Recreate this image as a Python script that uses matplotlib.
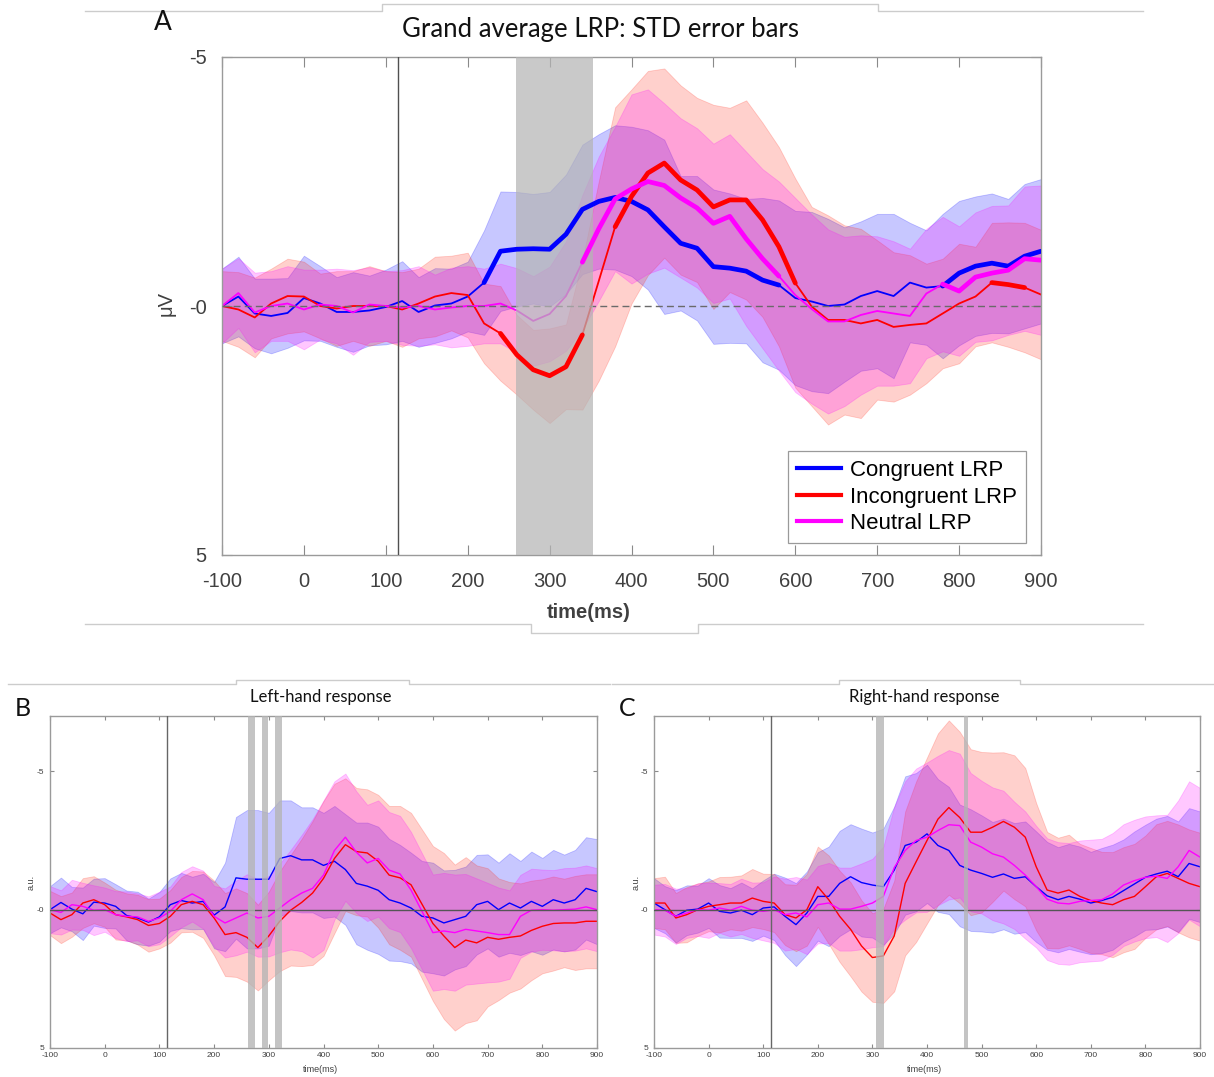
import numpy as np
import matplotlib
matplotlib.use('Agg')
import matplotlib.pyplot as plt
from matplotlib.lines import Line2D

plt.rcParams['font.family'] = ['Liberation Sans', 'DejaVu Sans']
plt.rcParams['axes.unicode_minus'] = False

W, H = 1214, 1077

times = list(range(-100, 901, 20))

# ---- A: grand average LRP (mean, std) ----
a_cong = [0.0, -0.19, 0.15, 0.2, 0.14, -0.16, -0.05, 0.12, 0.12, 0.09,
          0.02, -0.1, 0.12, -0.01, -0.05, -0.19, -0.47, -1.1, -1.14, -1.15,
          -1.14, -1.44, -1.94, -2.1, -2.18, -2.1, -1.93, -1.59, -1.26, -1.16,
          -0.79, -0.76, -0.7, -0.52, -0.42, -0.16, -0.09, 0.0, -0.03, -0.2,
          -0.3, -0.2, -0.47, -0.37, -0.4, -0.66, -0.8, -0.86, -0.8, -1.0, -1.1]
a_incong = [0.0, 0.07, 0.23, -0.05, -0.2, -0.19, 0.0, 0.05, 0.0, 0.0,
            0.0, 0.07, -0.05, -0.19, -0.26, -0.22, 0.35, 0.55, 0.98, 1.28,
            1.4, 1.22, 0.58, -0.5, -1.59, -2.2, -2.67, -2.87, -2.53, -2.33,
            -1.99, -2.13, -2.13, -1.73, -1.19, -0.46, 0.01, 0.28, 0.28, 0.35,
            0.28, 0.42, 0.38, 0.35, 0.15, -0.05, -0.19, -0.47, -0.43, -0.37, -0.23]
a_neut = [0.0, -0.26, 0.13, 0.0, -0.05, 0.07, -0.03, 0.0, 0.13, -0.03,
          0.0, 0.03, 0.0, 0.07, 0.03, 0.0, 0.0, -0.05, 0.09, 0.3,
          0.16, -0.2, -0.88, -1.55, -2.15, -2.35, -2.5, -2.42, -2.17, -1.97,
          -1.66, -1.8, -1.35, -0.95, -0.6, -0.22, 0.06, 0.31, 0.31, 0.18,
          0.1, 0.15, 0.2, -0.25, -0.44, -0.3, -0.58, -0.66, -0.72, -0.95, -0.92]
a_cong_sd = [0.75, 0.8, 0.7, 0.75, 0.7, 0.85, 0.75, 0.7, 0.8, 0.7,
             0.75, 0.8, 0.7, 0.75, 0.7, 0.7, 1.05, 1.2, 1.15, 1.1,
             1.15, 1.2, 1.3, 1.35, 1.45, 1.5, 1.6, 1.75, 1.35, 1.45,
             1.55, 1.5, 1.45, 1.65, 1.7, 1.75, 1.8, 1.75, 1.55, 1.5,
             1.55, 1.65, 1.2, 1.15, 1.45, 1.45, 1.4, 1.4, 1.35, 1.45, 1.45]
a_incong_sd = [0.7, 0.75, 0.8, 0.7, 0.75, 0.7, 0.65, 0.75, 0.7, 0.8,
               0.7, 0.75, 0.7, 0.8, 0.75, 0.85, 0.8, 0.95, 0.8, 0.8,
               0.95, 0.85, 1.5, 2.0, 2.4, 2.15, 2.05, 1.9, 1.9, 1.85,
               2.05, 1.85, 2.0, 1.95, 2.0, 2.1, 2.0, 2.1, 1.9, 1.9,
               1.6, 1.5, 1.4, 1.2, 1.1, 1.2, 1.0, 1.2, 1.25, 1.3, 1.3]
a_neut_sd = [0.75, 0.7, 0.8, 0.7, 0.75, 0.8, 0.7, 0.75, 0.85, 0.75,
             0.7, 0.75, 0.8, 0.7, 0.8, 0.8, 0.75, 0.8, 0.85, 0.9,
             0.95, 1.1, 1.35, 1.45, 1.45, 1.9, 1.85, 1.65, 1.6, 1.6,
             1.6, 1.65, 1.75, 1.8, 1.9, 1.95, 1.9, 1.85, 1.7, 1.6,
             1.5, 1.45, 1.35, 1.3, 1.35, 1.3, 1.3, 1.35, 1.3, 1.45, 1.5]
# significant stretches (ms) drawn bold
a_sig = [[(220, 580), (780, 900)],
         [(240, 340), (380, 600), (840, 880)],
         [(340, 580), (780, 900)]]
a_gray = [(259, 353)]

# ---- B: left-hand response ----
b_cong = [0.0, -0.26, -0.02, 0.15, -0.27, -0.24, -0.12, 0.21, 0.3, 0.45,
          0.26, -0.18, -0.33, -0.24, -0.3, 0.2, -0.1, -1.15, -1.1, -1.1,
          -1.1, -1.85, -1.95, -1.8, -1.8, -1.6, -1.75, -1.45, -0.95, -0.85,
          -0.7, -0.36, -0.24, -0.06, 0.24, 0.3, 0.48, 0.36, 0.24, -0.18,
          -0.3, 0.0, -0.24, -0.06, -0.3, -0.12, -0.36, -0.24, -0.36, -0.77, -0.65]
b_incong = [0.12, 0.36, 0.18, -0.24, -0.36, -0.18, 0.18, 0.26, 0.36, 0.57,
            0.5, 0.24, -0.18, -0.3, -0.18, 0.3, 0.9, 0.83, 1.0, 1.37,
            0.95, 0.42, 0.02, -0.26, -0.6, -1.13, -1.85, -2.35, -2.1, -2.05,
            -1.75, -1.25, -1.15, -0.9, -0.2, 0.5, 0.95, 1.37, 1.1, 1.2,
            1.0, 1.07, 1.0, 0.95, 0.75, 0.6, 0.5, 0.48, 0.48, 0.42, 0.42]
b_neut = [0.0, 0.1, -0.18, -0.12, 0.02, 0.0, 0.18, 0.24, 0.26, 0.42,
          0.3, 0.06, -0.36, -0.57, -0.36, 0.24, 0.48, 0.3, 0.12, 0.3,
          0.24, -0.06, -0.36, -0.6, -0.77, -1.25, -2.14, -2.62, -2.08, -1.69,
          -1.85, -1.43, -1.29, -0.71, 0.06, 0.83, 0.77, 0.83, 0.71, 0.77,
          0.83, 0.9, 0.9, 0.24, 0.02, 0.0, 0.02, 0.0, -0.02, -0.1, 0.0]
b_cong_sd = [0.85, 0.9, 0.8, 0.95, 0.85, 0.9, 0.8, 0.9, 0.95, 0.85,
             0.9, 0.95, 1.0, 0.95, 1.0, 1.2, 1.6, 2.2, 2.5, 2.5,
             2.4, 2.1, 2.0, 1.9, 1.9, 1.9, 2.0, 2.0, 2.2, 2.3,
             2.3, 2.2, 2.1, 2.0, 2.0, 2.0, 1.9, 1.8, 1.8, 1.8,
             1.7, 1.7, 1.8, 1.7, 1.8, 1.75, 1.8, 1.75, 1.8, 1.85, 1.9]
b_incong_sd = [0.8, 0.85, 0.8, 0.9, 0.85, 0.8, 0.9, 0.85, 0.9, 0.95,
               0.9, 0.95, 1.0, 1.1, 1.2, 1.35, 1.5, 1.6, 1.6, 1.55,
               1.6, 1.8, 2.0, 2.3, 2.6, 2.8, 2.7, 2.4, 2.3, 2.3,
               2.4, 2.5, 2.6, 2.6, 2.7, 2.8, 3.0, 3.0, 3.0, 2.8,
               2.5, 2.2, 2.0, 1.9, 1.8, 1.7, 1.7, 1.6, 1.7, 1.7, 1.7]
b_neut_sd = [0.85, 0.8, 0.9, 0.85, 0.9, 0.8, 0.85, 0.9, 0.85, 0.9,
             0.95, 0.9, 1.0, 1.0, 1.05, 1.1, 1.25, 1.35, 1.4, 1.4,
             1.45, 1.6, 1.8, 2.1, 2.5, 2.7, 2.5, 2.3, 2.2, 2.1,
             2.1, 2.1, 2.1, 2.1, 2.1, 2.1, 2.1, 2.1, 2.0, 1.9,
             1.8, 1.7, 1.6, 1.5, 1.5, 1.45, 1.45, 1.5, 1.5, 1.5, 1.5]
b_gray = [(262, 275), (287, 299), (312, 325)]

# ---- C: right-hand response ----
c_cong = [-0.24, 0.0, 0.24, 0.02, -0.02, -0.24, 0.06, 0.12, 0.02, 0.18,
          -0.06, -0.1, 0.24, 0.54, 0.12, -0.48, -0.48, -0.95, -1.19, -0.98,
          -0.89, -0.83, -1.43, -2.32, -2.44, -2.74, -2.32, -2.14, -1.6, -1.43,
          -1.31, -1.17, -1.29, -1.13, -1.19, -0.83, -0.5, -0.36, -0.48, -0.38,
          -0.24, -0.33, -0.45, -0.69, -0.93, -1.17, -1.29, -1.39, -1.19, -1.67, -1.55]
c_incong = [-0.24, -0.24, 0.3, 0.18, 0.0, -0.12, -0.18, -0.24, -0.24, -0.42,
            -0.3, -0.24, 0.18, 0.3, 0.0, -0.83, -0.36, 0.24, 0.71, 1.31,
            1.73, 1.67, 0.95, -0.95, -1.73, -2.5, -3.27, -3.69, -3.33, -2.8,
            -2.8, -2.98, -3.19, -2.98, -2.62, -1.55, -0.71, -0.6, -0.71, -0.48,
            -0.33, -0.24, -0.18, -0.36, -0.48, -0.83, -1.19, -1.31, -1.13, -0.95, -0.83]
c_neut = [0.0, 0.02, 0.24, 0.12, 0.0, 0.02, -0.06, 0.02, -0.12, 0.02,
          0.06, 0.0, 0.18, 0.12, 0.26, -0.18, -0.24, -0.02, -0.02, -0.12,
          -0.24, -0.48, -1.52, -2.14, -2.5, -2.62, -2.86, -3.07, -3.04, -2.44,
          -2.26, -2.02, -1.9, -1.6, -1.25, -0.83, -0.38, -0.24, -0.21, -0.3,
          -0.33, -0.36, -0.57, -0.89, -1.05, -1.17, -1.21, -1.13, -1.55, -2.14, -1.9]
c_cong_sd = [0.9, 0.85, 0.95, 0.9, 0.85, 0.9, 0.95, 0.9, 1.0, 0.95,
             1.0, 1.2, 1.4, 1.5, 1.5, 1.6, 1.8, 1.9, 1.9, 1.95,
             1.9, 2.1, 2.3, 2.5, 2.5, 2.5, 2.4, 2.3, 2.2, 2.2,
             2.1, 2.0, 2.0, 2.0, 2.0, 2.0, 1.95, 1.9, 1.9, 1.9,
             1.85, 1.9, 1.9, 1.85, 1.9, 1.9, 2.0, 2.0, 2.0, 2.0, 2.0]
c_incong_sd = [0.9, 0.95, 0.9, 1.0, 0.95, 0.9, 1.0, 0.95, 1.0, 1.05,
               1.0, 1.05, 1.1, 1.2, 1.3, 1.45, 1.6, 1.65, 1.7, 1.65,
               1.6, 1.7, 2.0, 2.6, 2.9, 3.0, 3.1, 3.15, 3.1, 3.0,
               2.9, 2.7, 2.5, 2.6, 2.5, 2.3, 2.1, 2.0, 2.0, 1.9,
               1.9, 1.85, 1.9, 1.9, 1.9, 1.85, 1.9, 1.9, 1.95, 1.95, 1.95]
c_neut_sd = [0.9, 0.95, 1.0, 0.9, 0.95, 1.0, 0.9, 0.95, 1.0, 1.0,
             1.05, 1.2, 1.3, 1.3, 1.35, 1.4, 1.45, 1.5, 1.5, 1.55,
             1.6, 1.8, 2.2, 2.5, 2.6, 2.7, 2.7, 2.7, 2.6, 2.5,
             2.4, 2.4, 2.4, 2.3, 2.3, 2.2, 2.2, 2.2, 2.2, 2.2,
             2.2, 2.2, 2.2, 2.2, 2.2, 2.2, 2.2, 2.3, 2.4, 2.5, 2.5]
c_gray = [(306, 322), (468, 476)]

labels = ['Congruent LRP', 'Incongruent LRP', 'Neutral LRP']
line_cols = ['#0000ff', '#ff0000', '#ff00ff']
band_cols = ['#0000ff', '#ff2a18', '#ff00ff']

t = np.array(times)


def fx(x):
    return x / W


def fy(y):
    return 1 - y / H


def shaded(ax, means, sds, lw):
    # each condition: band then mean line, so later bands tint earlier lines
    for m, s, lc, bc in zip(means, sds, line_cols, band_cols):
        m = np.array(m)
        s = np.array(s)
        ax.fill_between(t, m - s, m + s, facecolor=bc, edgecolor=bc,
                        alpha=0.22, lw=0.6, zorder=1)
        ax.plot(t, m, color=lc, lw=lw, zorder=2)


def style(ax, fs, ticklen, xpad, ypad, ylo):
    ax.set_xlim(-100, 900)
    ax.set_ylim(5, ylo)
    ax.set_xticks(range(-100, 901, 100))
    ax.set_yticks([-5, 0, 5])
    ax.set_yticklabels(['-5', '-0', '5'])
    ax.tick_params(direction='in', top=True, right=True, length=ticklen,
                   width=0.8, color='#8a8a8a', labelcolor='#404040',
                   labelsize=fs)
    ax.tick_params(axis='x', pad=xpad)
    ax.tick_params(axis='y', pad=ypad)
    for sp in ax.spines.values():
        sp.set_color('#9a9a9a')
        sp.set_linewidth(1)


fig = plt.figure(figsize=(W / 100, H / 100), dpi=100)

# panel A
axA = fig.add_axes([fx(222), fy(555), fx(1041) - fx(222), fy(57) - fy(555)])
shaded(axA, [a_cong, a_incong, a_neut], [a_cong_sd, a_incong_sd, a_neut_sd], 1.3)
axA.axhline(0, color='#6a6a6a', lw=1, ls=(0, (5, 3)), zorder=3)
axA.axvline(115, color='#505050', lw=1, zorder=3)
for lo, hi in a_gray:
    axA.axvspan(lo, hi, color='#b4b4b4', alpha=0.72, lw=0, zorder=4)
for m, segs, c in zip([a_cong, a_incong, a_neut], a_sig, line_cols):
    m = np.array(m)
    for lo, hi in segs:
        k = (t >= lo) & (t <= hi)
        axA.plot(t[k], m[k], color=c, lw=3.4, zorder=6,
                 solid_capstyle='round', solid_joinstyle='round')
style(axA, 14.5, 7, 12, 11, -5)

handles = [Line2D([], [], color=c, lw=3) for c in line_cols]
leg = axA.legend(handles, labels, loc='lower right',
                 bbox_to_anchor=(0.982, 0.024), borderaxespad=0,
                 fancybox=False, edgecolor='#9a9a9a', framealpha=1,
                 fontsize=16, handlelength=2.0, handletextpad=0.4,
                 labelspacing=0.25, borderpad=0.4)
leg.get_frame().set_linewidth(0.9)
leg.set_zorder(10)

fig.text(fx(601), fy(30), 'Grand average LRP: STD error bars', ha='center',
         va='center', fontsize=18.5, family='Lato', color='#111111')
fig.text(fx(163), fy(22), 'A', ha='center', va='center', fontsize=19,
         family='Lato', color='#111111')
fig.text(fx(589), fy(613), 'time(ms)', ha='center', va='center',
         fontsize=14.5, fontweight='bold', color='#404040')
fig.text(fx(166), fy(303), 'μV', ha='center', va='center', rotation=90,
         fontsize=14.5, color='#404040')

# panels B and C
panels = [
    (50, 597, [b_cong, b_incong, b_neut], [b_cong_sd, b_incong_sd, b_neut_sd],
     b_gray, 'Left-hand response', 'B', 23, 31),
    (654, 1200, [c_cong, c_incong, c_neut], [c_cong_sd, c_incong_sd, c_neut_sd],
     c_gray, 'Right-hand response', 'C', 627, 636),
]
for left, right, means, sds, grays, title, tag, tag_x, ylab_x in panels:
    ax = fig.add_axes([fx(left), fy(1048), fx(right) - fx(left), fy(716) - fy(1048)])
    shaded(ax, means, sds, 1.0)
    ax.axhline(0, color='#555555', lw=1, zorder=3)
    ax.axvline(114, color='#666666', lw=1, zorder=3)
    for lo, hi in grays:
        ax.axvspan(lo, hi, color='#b4b4b4', alpha=0.78, lw=0, zorder=4)
    style(ax, 6, 3, 3, 4, -7)
    cx = (left + right) / 2
    fig.text(fx(cx - 3), fy(697), title, ha='center', va='center',
             fontsize=12, family='Lato', color='#111111')
    fig.text(fx(tag_x), fy(708), tag, ha='center', va='center',
             fontsize=18, family='Lato', color='#111111')
    fig.text(fx(ylab_x), fy(882), 'a.u.', ha='center', va='center',
             rotation=90, fontsize=6.5, color='#404040')
    fig.text(fx(cx - 3), fy(1069), 'time(ms)', ha='center', va='center',
             fontsize=6.5, color='#404040')

# thin separator rules with raised tabs behind the titles
rules = [
    [(85, 11), (382, 11), (382, 4), (878, 4), (878, 11), (1143, 11)],
    [(85, 624), (531, 624), (531, 633), (698, 633), (698, 624), (1143, 624)],
    [(8, 684), (236, 684), (236, 680), (409, 680), (409, 684), (610, 684)],
    [(612, 684), (839, 684), (839, 680), (1020, 680), (1020, 684), (1214, 684)],
]
for pts in rules:
    xs = [fx(p[0]) for p in pts]
    ys = [fy(p[1]) for p in pts]
    fig.add_artist(Line2D(xs, ys, transform=fig.transFigure,
                          color='#cccccc', lw=1))

fig.savefig('out.png', dpi=100)
